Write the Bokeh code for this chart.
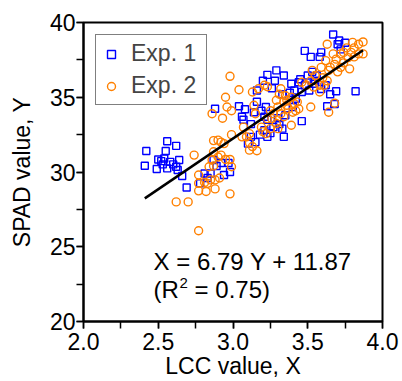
from bokeh.plotting import figure
from bokeh.models import Legend, LegendItem, Label, SingleIntervalTicker, Range1d, PrintfTickFormatter
from bokeh.embed import file_html
from bokeh.resources import INLINE

FONT = "Liberation Sans"

# Exp. 1 (blue squares)
exp1_x = [2.56, 2.42, 2.55, 2.62, 2.50, 2.52, 2.54, 2.58, 2.64, 2.41, 2.49, 2.56, 2.63, 2.66, 2.69, 2.53, 2.60, 2.62,
          2.81, 2.87, 2.92, 2.94, 2.98, 2.97, 2.85, 2.78, 2.89, 2.83,
          2.88, 3.04, 3.08, 3.06, 3.07, 3.16, 3.20, 3.23, 3.29, 3.28, 3.34, 3.26, 3.22, 3.19, 3.14, 3.33, 3.39, 3.40,
          3.12, 3.10, 3.15, 3.21, 3.23, 3.27, 3.31, 3.34, 3.33, 3.23, 3.21, 3.16, 3.46, 3.35, 3.18, 3.25, 3.30, 3.12,
          3.48, 3.52, 3.58, 3.59, 3.67, 3.70, 3.71, 3.72, 3.75, 3.45, 3.48, 3.50, 3.53, 3.55, 3.59, 3.62, 3.65, 3.69,
          3.68, 3.63, 3.82, 3.46, 3.41, 3.44, 3.51, 3.54, 3.56, 3.38, 3.42]
exp1_y = [32.06, 31.40, 31.40, 31.75, 30.84, 30.73, 30.90, 30.68, 30.80, 30.42, 30.20, 30.24, 30.13, 29.73, 28.96, 30.51, 30.51, 30.35,
          29.90, 30.80, 30.60, 29.80, 30.00, 30.60, 29.90, 29.25, 30.40, 29.60,
          34.23, 34.40, 34.20, 33.70, 33.50, 35.45, 36.10, 36.50, 36.80, 36.10, 36.45, 35.60, 34.35, 34.10, 34.00, 35.20, 35.90, 34.35,
          32.35, 31.90, 32.00, 32.80, 32.35, 33.00, 33.20, 32.35, 32.90, 33.50, 33.70, 34.70, 33.40, 33.80, 32.50, 32.60, 33.60, 33.20,
          38.10, 37.70, 37.70, 38.00, 39.20, 38.55, 38.80, 38.20, 38.65, 36.20, 35.80, 36.45, 36.70, 36.10, 35.55, 35.80, 35.20, 35.40,
          34.55, 34.40, 35.40, 35.35, 35.45, 36.00, 35.45, 35.90, 36.45, 35.30, 34.90]

# Exp. 2 (orange circles)
exp2_x = [2.74, 2.62, 2.70, 2.77, 2.77, 2.77, 2.77, 2.81, 2.82, 2.83, 2.85, 2.84, 2.87, 2.88, 2.88, 2.91, 2.86, 2.90,
          2.92, 2.95, 2.98, 2.99, 2.98, 2.87, 2.90, 2.92, 2.94, 2.99, 2.87, 2.86, 2.93, 2.96, 2.95, 2.98, 3.04, 2.99,
          3.07, 3.11, 3.11, 3.13, 3.11, 3.16, 3.13, 3.14, 3.15, 3.17, 3.21, 3.23, 3.19, 3.20, 3.22, 3.25, 3.23, 3.26,
          3.29, 3.30, 3.32, 3.34, 3.31, 3.32, 3.29, 3.34, 3.35, 3.37, 3.39, 3.41, 3.42, 3.44, 3.39, 3.36, 3.25, 3.27,
          3.30, 3.36, 3.40, 3.43, 3.06, 3.09,
          3.52, 3.46, 3.49, 3.52, 3.54, 3.58, 3.61, 3.63, 3.64, 3.65, 3.68, 3.70, 3.72, 3.74, 3.77, 3.79, 3.81, 3.84,
          3.87, 3.87, 3.84, 3.80, 3.76, 3.72, 3.67, 3.63, 3.62, 3.59, 3.55, 3.53, 3.60, 3.64, 3.68, 3.78, 3.74, 3.69,
          3.81, 3.58]
exp2_y = [31.13, 28.00, 28.00, 26.07, 29.80, 29.24, 28.74, 29.30, 28.70, 29.24, 29.47, 30.35, 30.40, 29.47, 28.87, 29.60, 30.80, 31.00,
          31.13, 30.84, 30.84, 30.35, 28.54, 31.35, 32.13, 32.00, 31.90, 32.50, 32.10, 33.90, 33.60, 34.35, 35.00, 36.40, 35.50, 34.10,
          33.00, 32.57, 31.95, 31.70, 31.46, 31.42, 35.35, 34.46, 33.90, 35.57, 35.80, 35.70, 33.00, 32.70, 32.57, 32.90, 33.57, 33.57,
          33.24, 32.90, 33.90, 33.70, 35.20, 35.57, 34.80, 34.70, 35.10, 34.23, 35.00, 34.57, 34.10, 34.23, 33.13, 34.80, 34.10, 33.90,
          34.35, 34.46, 34.00, 34.68, 32.35, 32.35,
          34.35, 36.00, 35.80, 36.10, 35.68, 35.35, 35.80, 36.10, 36.80, 37.00, 37.20, 36.70, 37.00, 37.30, 37.65, 38.00, 38.30, 38.55,
          38.70, 37.90, 37.90, 38.67, 38.30, 37.90, 37.90, 38.55, 37.45, 37.00, 36.45, 36.80, 36.30, 34.00, 34.60, 36.90, 38.00, 37.55,
          37.70, 35.80]

# Linear fit shown in the chart
fit_slope = 6.79
fit_intercept = 11.87
eq_text = "X = 6.79 Y + 11.87"
r2_parts = ["(R", "2", "= 0.75)"]

p = figure(width=402, height=381, x_range=Range1d(2, 4), y_range=Range1d(20, 40),
           output_backend="svg", toolbar_location=None,
           min_border_left=83, min_border_right=20, min_border_top=22, min_border_bottom=59)
p.background_fill_color = "white"
p.border_fill_color = "white"
p.xgrid.visible = False
p.ygrid.visible = False
p.outline_line_color = "black"
p.outline_line_width = 2
p.outline_line_alpha = 1

p.xaxis.ticker = SingleIntervalTicker(interval=0.5, num_minor_ticks=2)
p.yaxis.ticker = SingleIntervalTicker(interval=5, num_minor_ticks=2)
p.xaxis.formatter = PrintfTickFormatter(format="%.1f")
for ax in (p.xaxis, p.yaxis):
    ax.axis_line_width = 2
    ax.axis_line_color = "black"
    ax.major_tick_line_width = 1.5
    ax.minor_tick_line_width = 1.5
    ax.major_tick_out = 7
    ax.major_tick_in = 0
    ax.minor_tick_out = 7
    ax.minor_tick_in = 0
    ax.major_label_text_font = FONT
    ax.major_label_text_font_size = "23px"
    ax.major_label_text_color = "black"
    ax.axis_label_text_font = FONT
    ax.axis_label_text_font_size = "23px"
    ax.axis_label_text_font_style = "normal"
    ax.axis_label_text_color = "black"
p.xaxis.axis_label = "LCC value, X"
p.yaxis.axis_label = "SPAD value, Y"
p.xaxis.major_label_standoff = 4
p.xaxis.axis_label_standoff = 0
p.yaxis.major_label_standoff = 1
p.yaxis.axis_label_standoff = 12

r1 = p.scatter(exp1_x, exp1_y, marker="square", size=7, fill_color=None,
               line_color="#0000ff", line_width=1.4)
r2 = p.scatter(exp2_x, exp2_y, marker="circle", size=8, fill_color=None,
               line_color="#ff8000", line_width=1.4)

all_x = exp1_x + exp2_x
x0, x1 = min(all_x), max(all_x)
p.line([x0, x1], [fit_slope * x0 + fit_intercept, fit_slope * x1 + fit_intercept],
       line_color="black", line_width=2.5)

legend = Legend(items=[LegendItem(label="Exp. 1", renderers=[r1]),
                       LegendItem(label="Exp. 2", renderers=[r2])],
                location="top_left")
legend.margin = 12
legend.padding = 5
legend.spacing = 5
legend.glyph_width = 20
legend.glyph_height = 24
legend.label_height = 24
legend.label_width = 70
legend.label_standoff = 10
legend.label_text_font = FONT
legend.label_text_font_size = "23px"
legend.border_line_color = "black"
legend.border_line_width = 1.5
legend.background_fill_color = "white"
legend.background_fill_alpha = 1
p.add_layout(legend, "center")

p.add_layout(Label(x=2.469, y=24.03, text=eq_text, text_font=FONT, text_font_size="24px",
                   text_baseline="middle", text_color="black"))
p.add_layout(Label(x=2.469, y=22.15, text=r2_parts[0], text_font=FONT, text_font_size="24px",
                   text_baseline="middle", text_color="black"))
p.add_layout(Label(x=2.469, y=22.15, x_offset=26, y_offset=6, text=r2_parts[1], text_font=FONT,
                   text_font_size="15px", text_baseline="middle", text_color="black"))
p.add_layout(Label(x=2.469, y=22.15, x_offset=41, text=r2_parts[2], text_font=FONT, text_font_size="24px",
                   text_baseline="middle", text_color="black"))

open("out.html", "w").write(file_html(p, INLINE))
